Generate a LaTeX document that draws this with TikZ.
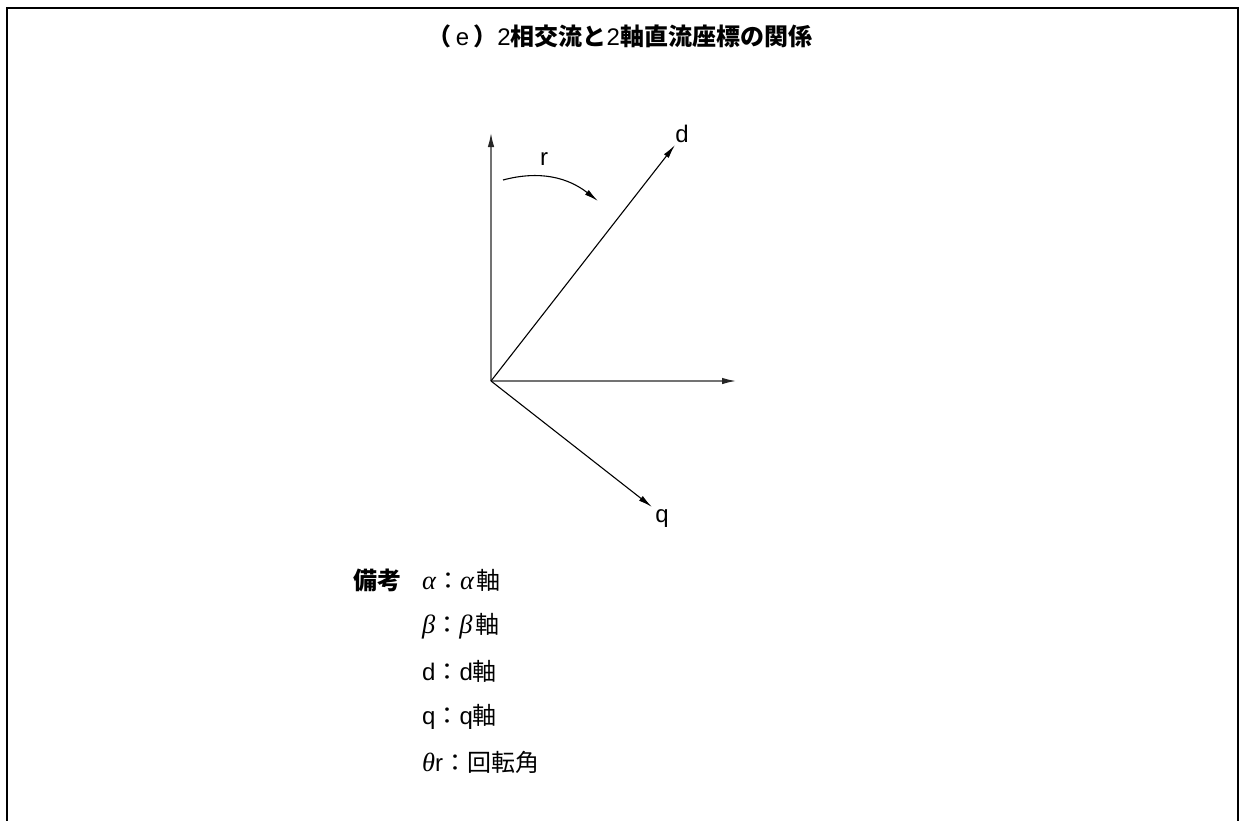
\documentclass[tikz,border=0pt]{standalone}
\usepackage{fontspec}
\setmainfont{Liberation Sans}
\newfontfamily\jpfont{Noto Sans CJK JP}
\newfontfamily\grfont{Liberation Serif}[Scale=1.1]
\usetikzlibrary{arrows.meta}
\newcommand{\jpb}[1]{{\jpfont\bfseries #1}}
\newcommand{\jpr}[1]{{\jpfont #1}}
\newcommand{\grk}[1]{{\grfont\itshape #1}}

\begin{document}
\begin{tikzpicture}
[every node/.style={inner sep=0pt, font=\fontsize{24pt}{28pt}\selectfont},
 axis/.style={line width=2pt, color=black!55, -{Latex[length=15pt, width=6.5pt, color=black!85]}},
 vec/.style={line width=1.1pt, color=black, -{Latex[length=14pt, width=6pt]}}]
\useasboundingbox (0pt, 0pt) rectangle (1240pt, -820pt);
\draw [line width=2.2pt] (7pt, -822pt) -- (7pt, -8pt) -- (1238pt, -8pt) -- (1238pt, -822pt);
\node (0) at (620pt, -36pt) {\jpb{（}\,e\,\jpb{）}2\jpb{相交流と}2\jpb{軸直流座標の関係}};
\coordinate (o) at (491pt, -381pt);
\coordinate (1) at (491pt, -132pt);
\coordinate (2) at (737pt, -381pt);
\coordinate (3) at (675pt, -145pt);
\coordinate (4) at (652pt, -507pt);
\coordinate (5) at (503pt, -180pt);
\coordinate (6) at (598pt, -201pt);
\node (d) at (682pt, -134pt) {d};
\node (q) at (662pt, -519pt) {q};
\node (r) at (544pt, -159pt) {r};
\draw [axis] (o) to (1);
\draw [axis] (o) to (2);
\draw [vec] (o) to (3);
\draw [vec] (o) to (4);
\draw [vec] (5) to[out=15, in=142] (6);
\node (7) [anchor=west] at (353pt, -580pt) {\jpb{備考}};
\node (8) [anchor=west] at (422pt, -580pt) {\grk{α}\jpr{：}\grk{α}\hspace{3pt}\jpr{軸}};
\node (9) [anchor=west] at (422pt, -626pt) {\grk{β}\jpr{：}\grk{β}\hspace{3pt}\jpr{軸}};
\node (10) [anchor=west] at (422pt, -671pt) {d\jpr{：}d\jpr{軸}};
\node (11) [anchor=west] at (422pt, -717pt) {q\jpr{：}q\jpr{軸}};
\node (12) [anchor=west] at (422pt, -762pt) {\grk{θ}r\jpr{：回転角}};
\end{tikzpicture}
\end{document}
